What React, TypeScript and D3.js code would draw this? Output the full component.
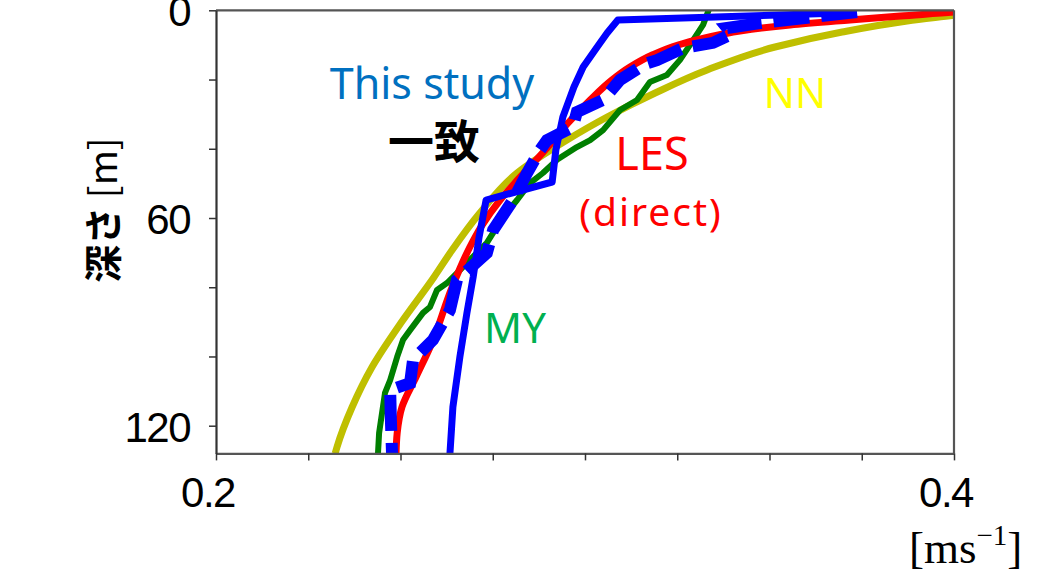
import React, { useEffect, useRef } from 'react';
import * as d3 from 'd3';

const W = 1052;
const H = 573;

const xTicks = [0.2, 0.225, 0.25, 0.275, 0.3, 0.325, 0.35, 0.375, 0.4];
const xTickLabels = [
  { v: 0.2, t: '0.2' },
  { v: 0.4, t: '0.4' },
];
const yTicks = [0, 20, 40, 60, 80, 100, 120];
const yTickLabels = [
  { v: 0, t: '0' },
  { v: 60, t: '60' },
  { v: 120, t: '120' },
];

// LES (direct) – red
const lesDepth = [0, 0.49, 1.65, 2.8, 4.25, 5.98, 8.0, 10.02, 12.91, 16.38, 20.13, 25.91, 32.56, 40.36, 49.89, 54.8, 62.6, 68.38, 79.93, 96.11, 105.93, 114.6, 122.11, 128];
const lesSpeed = [0.405, 0.4003, 0.3854, 0.3718, 0.3556, 0.342, 0.3325, 0.3252, 0.3182, 0.3122, 0.3073, 0.3014, 0.2954, 0.2892, 0.281, 0.277, 0.2718, 0.2688, 0.264, 0.2585, 0.2542, 0.2504, 0.2491, 0.2488];

// NN – yellow
const nnDepth = [0, 1.36, 3.09, 6.27, 10.6, 17.25, 23.89, 30.82, 37.47, 47.0, 58.56, 69.24, 77.04, 90.33, 103.04, 114.6, 126.15, 128];
const nnSpeed = [0.41, 0.4003, 0.3873, 0.3697, 0.3515, 0.3331, 0.319, 0.306, 0.2951, 0.2816, 0.2715, 0.264, 0.2591, 0.2501, 0.2423, 0.2369, 0.2328, 0.2323];

// MY – green
const myDepth = [-2, 4.2, 8.6, 14.4, 18.7, 20.7, 25.9, 28.8, 34.6, 37.5, 39.5, 43.2, 47.0, 49.9, 54.8, 59.7, 67.2, 72.1, 75.9, 78.8, 80.8, 85.7, 87.4, 92.4, 95.2, 100.1, 106.8, 110.5, 116.3, 122.1, 128];
const mySpeed = [0.3342, 0.332, 0.3293, 0.3257, 0.3222, 0.3176, 0.3141, 0.3095, 0.3049, 0.3014, 0.2978, 0.2924, 0.2886, 0.2851, 0.2816, 0.2778, 0.2734, 0.2688, 0.2653, 0.2626, 0.2599, 0.258, 0.2561, 0.2526, 0.2507, 0.2491, 0.2472, 0.2458, 0.245, 0.2442, 0.2439];

// This study – blue solid
const studyDepth = [0.64, 2.8, 6.56, 10.6, 13.49, 16.38, 22.16, 25.91, 30.82, 40.36, 49.6, 54.8, 65.49, 77.04, 87.44, 100.1, 114.6, 128];
const studySpeed = [0.3737, 0.3089, 0.306, 0.3033, 0.3014, 0.2995, 0.297, 0.2957, 0.294, 0.2921, 0.2911, 0.2732, 0.2713, 0.2697, 0.268, 0.2661, 0.2642, 0.2634];

// Blue dashed
const dashDepth = [0.5, 3.7, 5.1, 6.8, 9.4, 10.9, 14.4, 15.5, 20.1, 25.9, 29.4, 33.7, 37.5, 40.4, 47.0, 54.8, 63.5, 70.1, 77.9, 86.6, 95.2, 101.0, 107.7, 109.7, 118.4, 128];
const dashSpeed = [0.3737, 0.3474, 0.3385, 0.3398, 0.3347, 0.3266, 0.3195, 0.3163, 0.3095, 0.3049, 0.2978, 0.2967, 0.2897, 0.2878, 0.2843, 0.2805, 0.2751, 0.2734, 0.2653, 0.2634, 0.2588, 0.2534, 0.2526, 0.2472, 0.2474, 0.2477];

const x = d3.scaleLinear().domain([0.2, 0.4]).range([216, 954]);
const y = d3.scaleLinear().domain([0, 128]).range([10.3, 453.4]);

const zip = (speed: number[], depth: number[]) => speed.map((s, i) => [s, depth[i]] as [number, number]);

const smooth = d3
  .line<[number, number]>()
  .x((d) => x(d[0]))
  .y((d) => y(d[1]))
  .curve(d3.curveMonotoneY);
const straight = d3
  .line<[number, number]>()
  .x((d) => x(d[0]))
  .y((d) => y(d[1]));

export default function App() {
  const xAxisRef = useRef<SVGGElement>(null);
  const yAxisRef = useRef<SVGGElement>(null);

  useEffect(() => {
    if (xAxisRef.current) {
      const g = d3.select(xAxisRef.current);
      g.call(
        d3.axisBottom(x).tickValues(xTicks).tickSize(7).tickSizeOuter(0).tickFormat(() => '') as any
      );
      g.select('.domain').attr('stroke', '#555').attr('stroke-width', 2.2);
      g.selectAll('.tick line').attr('stroke', '#333').attr('stroke-width', 1.5);
    }
    if (yAxisRef.current) {
      const g = d3.select(yAxisRef.current);
      g.call(
        d3.axisLeft(y).tickValues(yTicks).tickSize(7).tickSizeOuter(0).tickFormat(() => '') as any
      );
      g.select('.domain').attr('stroke', '#333').attr('stroke-width', 2.2);
      g.selectAll('.tick line').attr('stroke', '#333').attr('stroke-width', 1.5);
    }
  }, []);

  const [x0, x1] = x.range();
  const [y0, y1] = y.range();

  return (
    <svg
      width={W}
      height={H}
      style={{ position: 'absolute', left: 0, top: 0, background: '#fff' }}
    >
      <defs>
        <clipPath id="plot">
          <rect x={x0} y={y0} width={x1 - x0} height={y1 - y0} />
        </clipPath>
      </defs>
      <rect x={0} y={0} width={W} height={H} fill="#fff" />

      <g clipPath="url(#plot)" fill="none" strokeLinejoin="round">
        <path d={smooth(zip(nnSpeed, nnDepth)) || ''} stroke="#BFBF00" strokeWidth={7} />
        <path d={straight(zip(mySpeed, myDepth)) || ''} stroke="#007F00" strokeWidth={6} />
        <path d={smooth(zip(lesSpeed, lesDepth)) || ''} stroke="#FF0000" strokeWidth={7} />
        <path
          d={straight(zip(dashSpeed, dashDepth)) || ''}
          stroke="#0000FF"
          strokeWidth={12}
          strokeDasharray="36 12"
          strokeLinejoin="miter"
        />
        <path d={straight(zip(studySpeed, studyDepth)) || ''} stroke="#0000FF" strokeWidth={7} />
      </g>

      {/* frame */}
      <line x1={x0} x2={x1} y1={y0} y2={y0} stroke="#555" strokeWidth={2.2} />
      <line x1={x1} x2={x1} y1={y0} y2={y1} stroke="#555" strokeWidth={2.2} />
      <g ref={xAxisRef} transform={`translate(0,${y1})`} />
      <g ref={yAxisRef} transform={`translate(${x0},0)`} />

      {/* tick labels */}
      <g fontFamily="'Liberation Sans', Arial, sans-serif" fontSize={42} fill="#000" letterSpacing={-1.5}>
        {xTickLabels.map((d) => (
          <text key={d.t} x={x(d.v) - 8} y={507} textAnchor="middle">
            {d.t}
          </text>
        ))}
        {yTickLabels.map((d) => (
          <text key={d.t} x={190} y={y(d.v) + 16} textAnchor="end">
            {d.t}
          </text>
        ))}
      </g>

      {/* axis titles */}
      <text
        transform="translate(117,210) rotate(-90)"
        textAnchor="middle"
        fontFamily="'Noto Sans CJK JP', sans-serif"
        fontSize={38}
        fill="#000"
      >
        <tspan fontWeight={700}>深さ</tspan>
        <tspan> [m]</tspan>
      </text>
      <text x={909} y={563} fontFamily="'Liberation Serif', 'Times New Roman', serif" fontSize={45} fill="#000">
        [ms
        <tspan fontSize={29} dy={-18}>−1</tspan>
        <tspan dy={18}>]</tspan>
      </text>

      {/* annotations */}
      <text x={432} y={99} textAnchor="middle" fontFamily="'Noto Sans', sans-serif" fontSize={43} fill="#0070C0">
        This study
      </text>
      <text x={434} y={158} textAnchor="middle" fontFamily="'Noto Sans CJK JP', sans-serif" fontWeight={700} fontSize={46} fill="#000">
        一致
      </text>
      <text x={652} y={170} textAnchor="middle" fontFamily="'Noto Sans', sans-serif" fontSize={45} fill="#FF0000">
        LES
      </text>
      <text x={651} y={226} textAnchor="middle" fontFamily="'Noto Sans', sans-serif" fontSize={39} fill="#FF0000" letterSpacing={2}>
        (direct)
      </text>
      <text x={795} y={108} textAnchor="middle" fontFamily="'Noto Sans', sans-serif" fontSize={41} fill="#FFFF00">
        NN
      </text>
      <text x={515} y={343} textAnchor="middle" fontFamily="'Noto Sans', sans-serif" fontSize={42} fill="#00B050">
        MY
      </text>
    </svg>
  );
}
